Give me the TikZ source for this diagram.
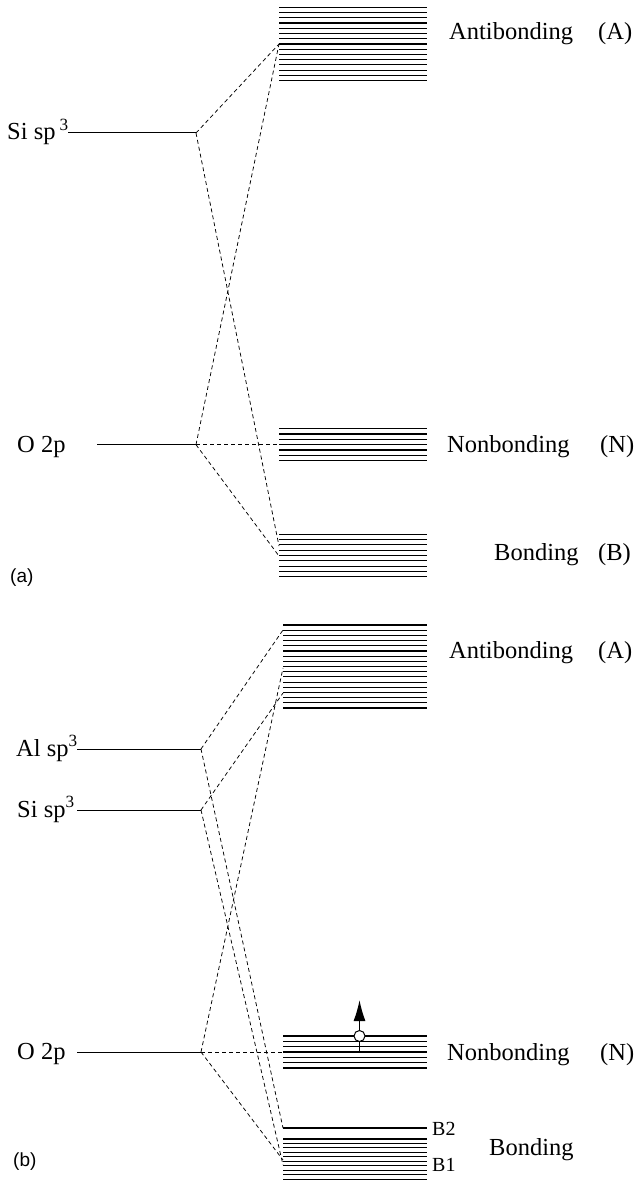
\documentclass[tikz,border=0pt]{standalone}
\usepackage{fontspec}
\setmainfont{Liberation Serif}
\newfontfamily\sansf{Liberation Sans}
\usetikzlibrary{arrows.meta}
\begin{document}
\begin{tikzpicture}[x=1pt,y=-1pt,
  level/.style={line width=1pt},
  bandline/.style={line width=1.1pt},
  conn/.style={dash pattern=on 4pt off 3pt, line width=0.75pt},
  lbl/.style={font=\fontsize{24.5}{28}\selectfont, inner sep=0pt, anchor=base west},
  smalllbl/.style={font=\fontsize{20}{24}\selectfont, inner sep=0pt, anchor=base west},
  panel/.style={font=\sansf\fontsize{19}{22}\selectfont, inner sep=0pt, anchor=base west}]
\useasboundingbox (0,0) rectangle (637,1182);

% ---------------- panel (a) ----------------
\foreach \i in {0,...,14} \draw[bandline] (279,7.3+5.24*\i) -- (427,7.3+5.24*\i);
\foreach \i in {0,...,6} \draw[bandline] (279,428.7+5.33*\i) -- (427,428.7+5.33*\i);
\foreach \i in {0,...,8} \draw[bandline] (279,534.3+5.3*\i) -- (427,534.3+5.3*\i);

\coordinate (siAl) at (68,133);
\coordinate (siA) at (196,133);
\coordinate (oAl) at (97,444.7);
\coordinate (oA) at (196,444.7);
\coordinate (antiA) at (279,44);
\coordinate (nbA) at (279,444.7);
\coordinate (bA1) at (279,546);
\coordinate (bA2) at (279,556);

\draw[level] (siAl) -- (siA);
\draw[level] (oAl) -- (oA);
\draw[conn] (siA) -- (antiA);
\draw[conn] (siA) -- (bA1);
\draw[conn] (oA) -- (antiA);
\draw[conn] (oA) -- (nbA);
\draw[conn] (oA) -- (bA2);

\node[lbl] (tSiA) at (7,140) {Si sp\,\textsuperscript{3}};
\node[lbl] (tOA) at (17,452) {O 2p};
\node[lbl] (tAntiA) at (449,40) {Antibonding};
\node[lbl] (tAntiAk) at (598,40) {(A)};
\node[lbl] (tNbA) at (447,452) {Nonbonding};
\node[lbl] (tNbAk) at (600,452) {(N)};
\node[lbl] (tBA) at (494,560) {Bonding};
\node[lbl] (tBAk) at (598,560) {(B)};
\node[panel] (pa) at (10,582) {(a)};

% ---------------- panel (b) ----------------
\foreach \i in {0,...,16} \draw[bandline] (283,625+5.19*\i) -- (427,625+5.19*\i);
\foreach \i in {0,...,6} \draw[bandline] (283,1036+5.33*\i) -- (427,1036+5.33*\i);
\draw[bandline] (283,1128) -- (427,1128);
\foreach \i in {0,...,9} \draw[bandline] (283,1139+4.45*\i) -- (427,1139+4.45*\i);

\coordinate (alBl) at (77,749);
\coordinate (alB) at (201,749);
\coordinate (siBl) at (77,810);
\coordinate (siB) at (201,810);
\coordinate (oBl) at (77,1052);
\coordinate (oB) at (201,1052);
\coordinate (antiB1) at (283,630);
\coordinate (antiB2) at (283,693);
\coordinate (antiB3) at (283,668);
\coordinate (nbB) at (283,1052);
\coordinate (bB2) at (283,1128);
\coordinate (bB1s) at (283,1165);
\coordinate (bB1o) at (283,1160);

\draw[level] (alBl) -- (alB);
\draw[level] (siBl) -- (siB);
\draw[level] (oBl) -- (oB);
\draw[conn] (alB) -- (antiB1);
\draw[conn] (alB) -- (bB2);
\draw[conn] (siB) -- (antiB2);
\draw[conn] (siB) -- (bB1s);
\draw[conn] (oB) -- (antiB3);
\draw[conn] (oB) -- (nbB);
\draw[conn] (oB) -- (bB1o);

\node[circle, draw, fill=white, minimum size=11pt, inner sep=0pt, line width=1pt] (elec) at (359.5,1036) {};
\coordinate (tip) at (359.5,1000);
\coordinate (stemEnd) at (359.5,1052);
\draw[line width=1.3pt] (elec.south) -- (stemEnd);
\draw[line width=1.3pt, -{Latex[length=21pt,width=12pt]}] (elec.north) -- (tip);

\node[lbl] (tAlB) at (16,756) {Al sp\textsuperscript{3}};
\node[lbl] (tSiB) at (17,817) {Si sp\textsuperscript{3}};
\node[lbl] (tOB) at (17,1059) {O 2p};
\node[lbl] (tAntiB) at (449,658) {Antibonding};
\node[lbl] (tAntiBk) at (598,658) {(A)};
\node[lbl] (tNbB) at (447,1060) {Nonbonding};
\node[lbl] (tNbBk) at (600,1060) {(N)};
\node[lbl] (tBB) at (489,1155) {Bonding};
\node[smalllbl] (tB2) at (432,1135) {B2};
\node[smalllbl] (tB1) at (432,1171) {B1};
\node[panel] (pb) at (13,1166) {(b)};
\end{tikzpicture}
\end{document}
